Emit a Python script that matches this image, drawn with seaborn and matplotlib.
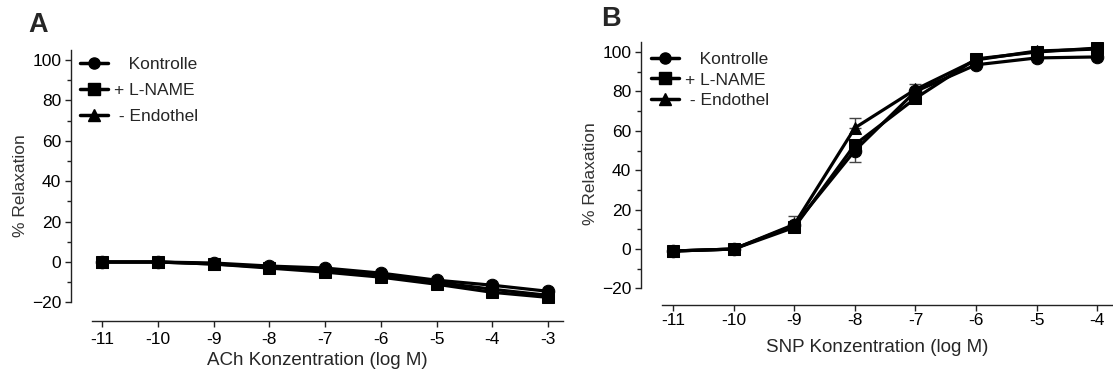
import numpy as np
import pandas as pd
import matplotlib
matplotlib.use("Agg")
import matplotlib.pyplot as plt
import seaborn as sns
from matplotlib.lines import Line2D
from matplotlib.ticker import MultipleLocator

# ---- data ----
conc_a = [-11, -10, -9, -8, -7, -6, -5, -4, -3]
ach_kontrolle = [0, 0, -0.5, -2, -3, -5.5, -9, -11.5, -14.5]
ach_lname = [0, 0, -1, -3, -5, -7.5, -11, -15, -17.5]
ach_endothel = [0, 0, -1, -2.5, -4, -6.5, -10, -13.5, -16.5]

conc_b = [-11, -10, -9, -8, -7, -6, -5, -4]
snp_kontrolle = [-1, 0, 12, 50, 80, 93.5, 97, 97.5]
snp_lname = [-1, 0, 11, 53, 76.5, 96.5, 100, 102]
snp_endothel = [-1, 0, 12.5, 61.5, 81, 96, 100.5, 101.5]

# error bars (B)
err_x = [-9, -8, -8, -7]
err_y = [12, 61.5, 50, 80]
err_up = [5, 5, 0, 4]
err_lo = [0, 0, 6, 0]

series_names = ["Kontrolle", "L-NAME", "Endothel"]
legend_labels = ["   Kontrolle", "+ L-NAME", " - Endothel"]
markers = {"Kontrolle": "o", "L-NAME": "s", "Endothel": "^"}

sns.set_theme(style="ticks")
plt.rcParams['font.family'] = ['Liberation Sans', 'DejaVu Sans']

fig = plt.figure(figsize=(11.13, 3.74), dpi=100)

def make_df(x, ys):
    rows = []
    for name, vals in zip(series_names, ys):
        for xi, yi in zip(x, vals):
            rows.append({"conc": xi, "val": yi, "grp": name})
    return pd.DataFrame(rows)

def style_axes(ax, xlim, xbounds, ylim, xlabel, xticks, xpad, tpad, lspace, anchor):
    ax.set_xlim(*xlim)
    ax.set_ylim(*ylim)
    ax.spines['top'].set_visible(False)
    ax.spines['right'].set_visible(False)
    ax.spines['left'].set_bounds(-20, ylim[1])
    ax.spines['bottom'].set_bounds(*xbounds)
    for s in ['left', 'bottom']:
        ax.spines[s].set_linewidth(1.0)
        ax.spines[s].set_color('#222222')
    ax.set_yticks([-20, 0, 20, 40, 60, 80, 100])
    ax.yaxis.set_minor_locator(MultipleLocator(10))
    ax.set_xticks(xticks)
    ax.set_xticklabels([str(t) for t in xticks])
    ax.tick_params(axis='both', which='major', direction='out', length=4, width=1,
                   labelsize=12.5, colors='#222222', labelcolor='black')
    ax.tick_params(axis='x', which='major', pad=tpad)
    ax.tick_params(axis='y', which='major', pad=3)
    ax.tick_params(axis='y', which='minor', direction='out', length=3, width=1, colors='#222222')
    ax.set_xlabel(xlabel, fontsize=13.5, labelpad=xpad)
    ax.set_ylabel("% Relaxation", fontsize=12.5, color='#333333', labelpad=3)
    handles = [Line2D([0], [0], color='black', lw=2.5, marker=markers[n],
                      markersize=8) for n in series_names]
    ax.legend(handles, legend_labels, loc='upper left', bbox_to_anchor=anchor,
              frameon=False, fontsize=12.5, handlelength=1.6, handletextpad=0.35,
              labelspacing=lspace, borderaxespad=0.3)

# Panel A
axA = fig.add_axes([71/1113, (374-320.7)/374, (563-71)/1113, (320.7-50)/374])
dfA = make_df(conc_a, [ach_kontrolle, ach_lname, ach_endothel])
sns.lineplot(data=dfA, x="conc", y="val", hue="grp", style="grp",
             palette={n: "black" for n in series_names}, markers=markers, dashes=False,
             linewidth=2.3, markersize=9, markeredgecolor='black', ax=axA, legend=False,
             sort=False)
style_axes(axA, (-11.56, -2.73), (-11.18, -2.73), (-29.06, 104.95),
           "ACh Konzentration (log M)", conc_a, 4, 4, 0.65, (-0.006, 1.021))

# Panel B
axB = fig.add_axes([641/1113, (374-305)/374, (1113-641)/1113, (305-42)/374])
dfB = make_df(conc_b, [snp_kontrolle, snp_lname, snp_endothel])
axB.errorbar(err_x, err_y, yerr=[err_lo, err_up], fmt='none', ecolor='#444444',
             elinewidth=1, capsize=4.5, capthick=1, zorder=1)
sns.lineplot(data=dfB, x="conc", y="val", hue="grp", style="grp",
             palette={n: "black" for n in series_names}, markers=markers, dashes=False,
             linewidth=2.3, markersize=9, markeredgecolor='black', ax=axB, legend=False,
             sort=False)
style_axes(axB, (-11.53, -3.74), (-11.18, -3.74), (-28.4, 105.08),
           "SNP Konzentration (log M)", conc_b, 8, 2, 0.33, (-0.004, 1.01))

fig.text(38/1113, 1 - 25/374, "A", fontsize=19.5, fontweight='bold', va='center', ha='center')
fig.text(611/1113, 1 - 19/374, "B", fontsize=19.5, fontweight='bold', va='center', ha='center')

fig.savefig("out.png", dpi=100)
